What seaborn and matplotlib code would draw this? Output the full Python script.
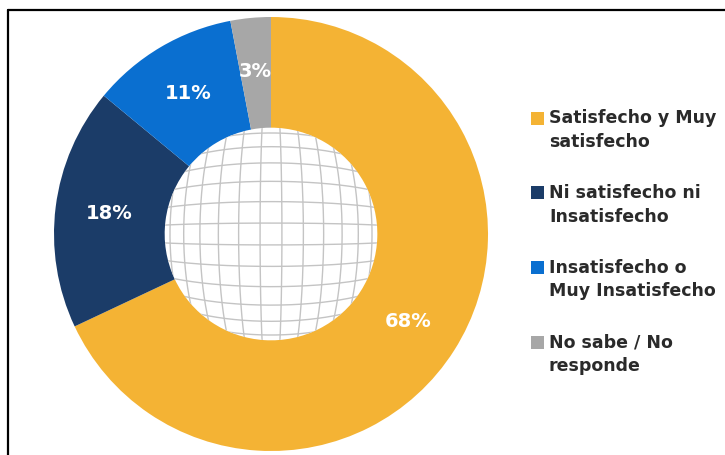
import numpy as np
import matplotlib
matplotlib.use("Agg")
import matplotlib.pyplot as plt
from matplotlib.patches import Circle, Rectangle
from matplotlib.lines import Line2D
import seaborn as sns

# ---- data ----
categories = ["Satisfecho y Muy\nsatisfecho",
              "Ni satisfecho ni\nInsatisfecho",
              "Insatisfecho o\nMuy Insatisfecho",
              "No sabe / No\nresponde"]
values = [68, 18, 11, 3]
pct_labels = ["68%", "18%", "11%", "3%"]
colors = ["#F4B334", "#1B3C68", "#0A6FD0", "#A7A7A7"]

sns.set_theme(style="white")
plt.rcParams['font.family'] = ['DejaVu Sans']

W, H = 725, 455
fig = plt.figure(figsize=(W / 100, H / 100), dpi=100)
fig.patch.set_facecolor("white")

cx, cy, R = 271, 234, 217
ax = fig.add_axes([(cx - R) / W, 1 - (cy + R) / H, 2 * R / W, 2 * R / H])

inner = 0.49
wedges, _ = ax.pie(values, colors=sns.color_palette(colors), startangle=90,
                   counterclock=False, radius=1,
                   wedgeprops=dict(width=1 - inner, linewidth=0))
ax.set_xlim(-1, 1)
ax.set_ylim(-1, 1)
ax.set_aspect("equal")
ax.axis("off")

# percentage labels at the middle of the ring
start = 90.0
total = float(sum(values))
for v, lab in zip(values, pct_labels):
    mid = start - v / total * 360 / 2
    start -= v / total * 360
    r = 0.75
    ax.text(r * np.cos(np.radians(mid)), r * np.sin(np.radians(mid)), lab,
            ha="center", va="center", color="white", fontsize=14,
            fontweight="bold")

# globe grid inside the hole (barrel-distorted square grid)
clip = Circle((0, 0), inner, transform=ax.transData, facecolor="none",
              edgecolor="none")
ax.add_patch(clip)
k = 0.15
step = 0.206
grid_vals = np.arange(-7, 7) * step + step / 2
t = np.linspace(-2.0, 2.0, 400)
for g in grid_vals:
    for (u, v) in [(np.full_like(t, g), t), (t, np.full_like(t, g))]:
        r2 = u ** 2 + v ** 2
        x = u / (1 + k * r2) * inner
        y = v / (1 + k * r2) * inner
        ln, = ax.plot(x, y, color="#c4c4c4", lw=1.0, zorder=3)
        ln.set_clip_path(clip)

# legend (manual, in pixel positions)
for i, (lab, col) in enumerate(zip(categories, colors)):
    yc = 118 + 74.8 * i
    fig.patches.append(Rectangle(((531) / W, 1 - (yc + 6.5) / H), 13 / W, 13 / H,
                                 transform=fig.transFigure, facecolor=col,
                                 edgecolor="none"))
    fig.text(549 / W, 1 - (yc + 12) / H, lab, ha="left", va="center",
             fontsize=12.5, fontweight="bold", color="#2a2a2a",
             linespacing=1.4)

# frame lines
fig.add_artist(Line2D([7.5 / W, 1.0], [1 - 10 / H, 1 - 10 / H],
                      transform=fig.transFigure, color="black", lw=1.6))
fig.add_artist(Line2D([7.5 / W, 7.5 / W], [0, 1 - 10 / H],
                      transform=fig.transFigure, color="black", lw=1.6))

fig.savefig("out.png", dpi=100, facecolor="white")
